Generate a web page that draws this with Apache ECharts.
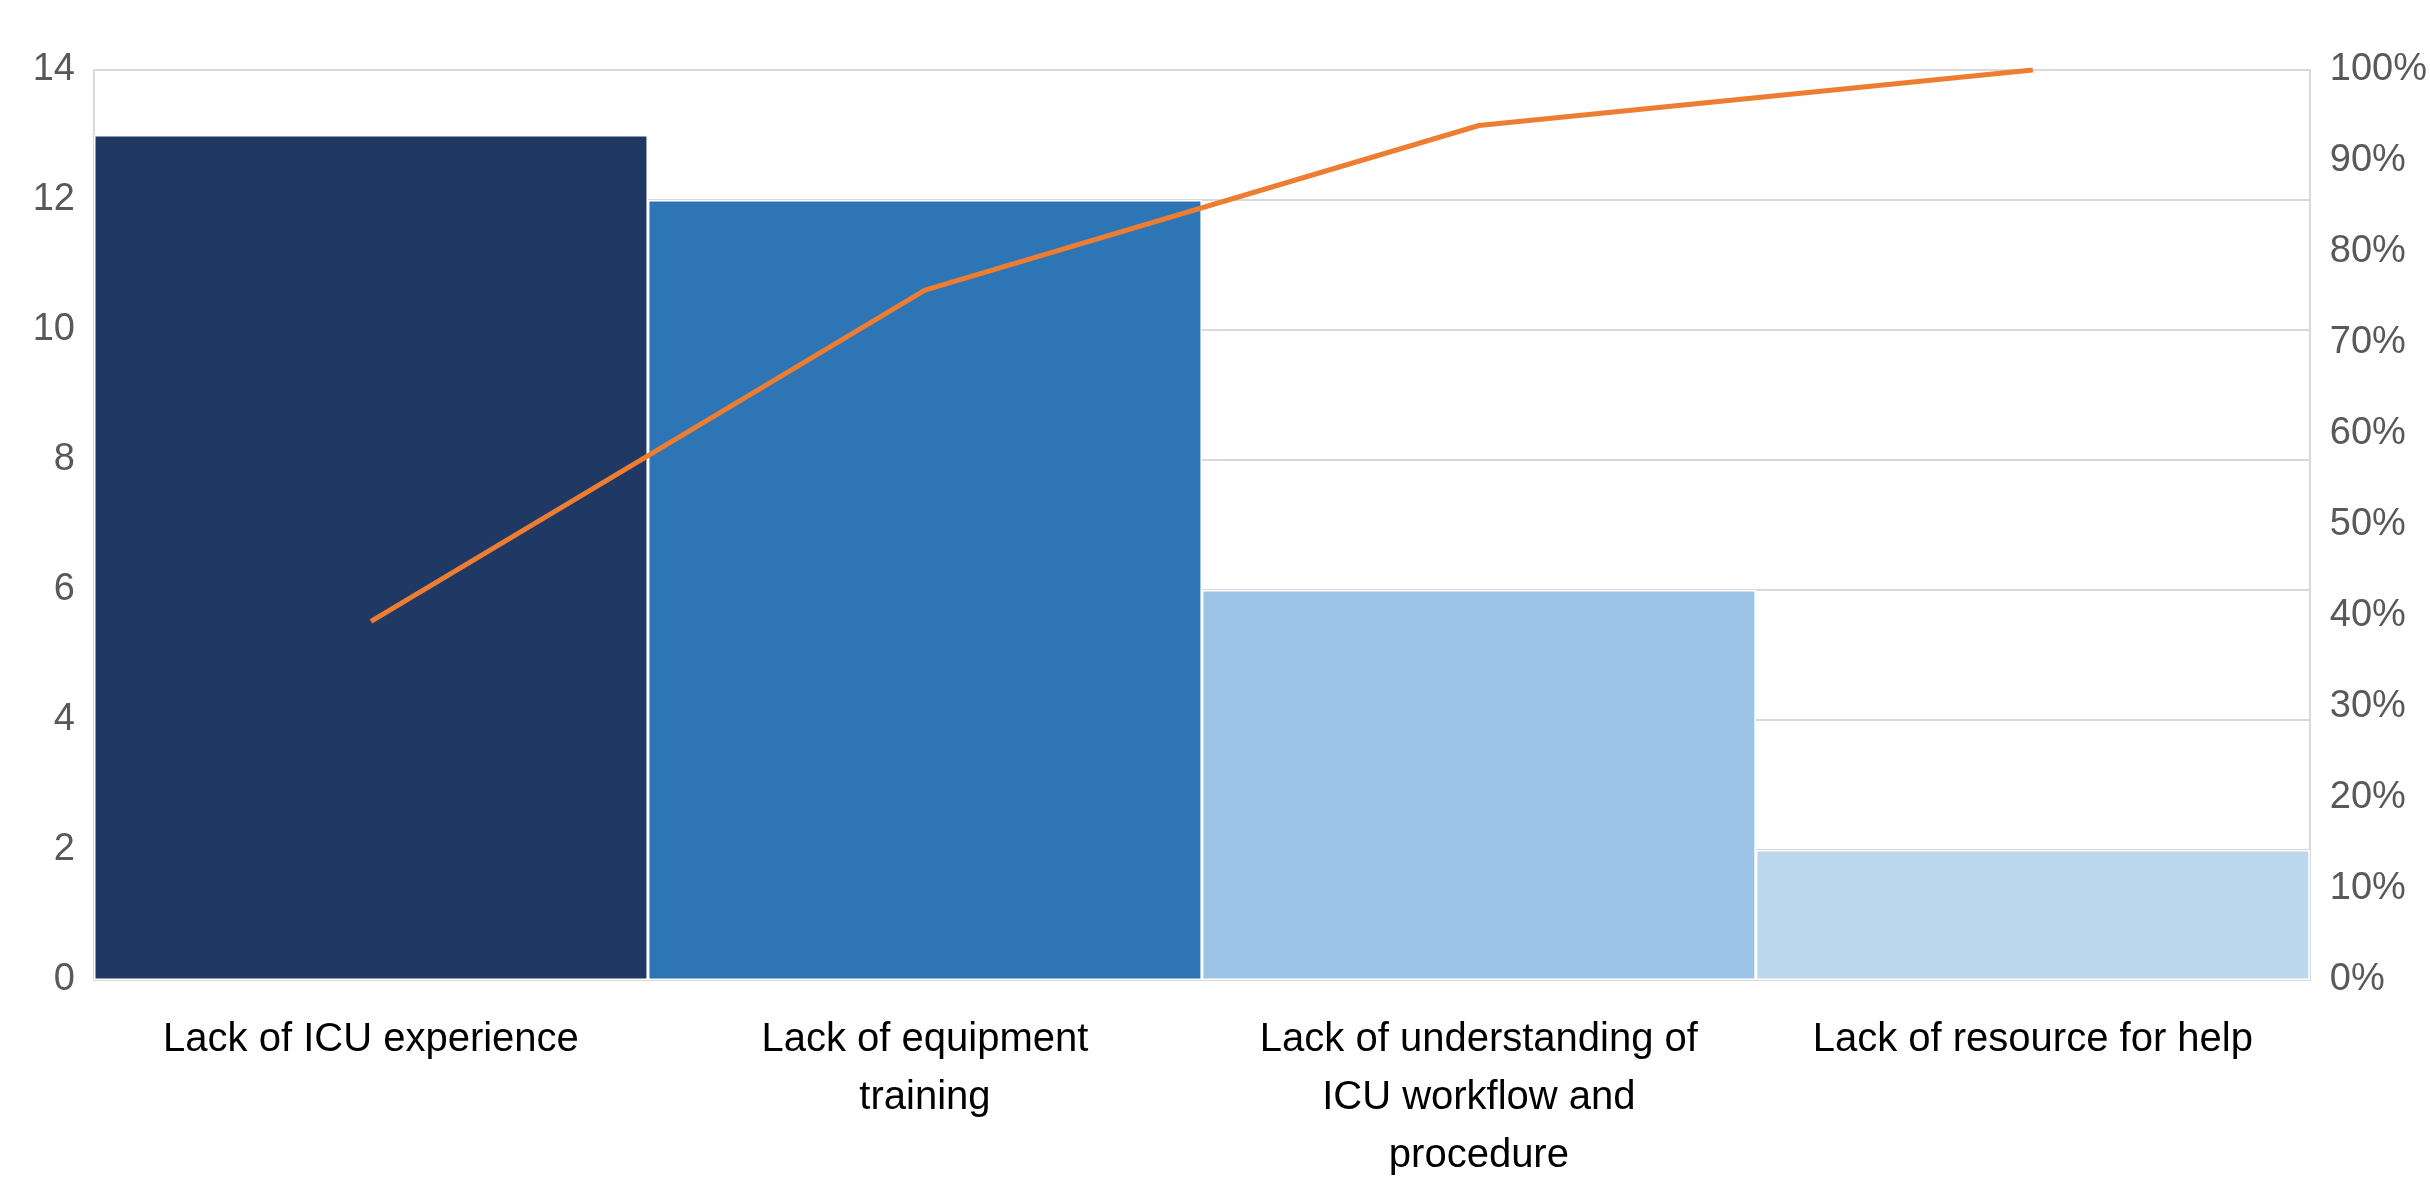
<!DOCTYPE html>
<html>
<head>
<meta charset="utf-8">
<script src="https://cdn.jsdelivr.net/npm/echarts@6/dist/echarts.min.js"></script>
<style>
html,body{margin:0;padding:0;background:#fff;}
#chart{width:2430px;height:1185px;}
</style>
</head>
<body>
<div id="chart"></div>
<script>
var categories = [
  "Lack of ICU experience",
  "Lack of equipment\ntraining",
  "Lack of understanding of\nICU workflow and\nprocedure",
  "Lack of resource for help"
];
var counts = [13, 12, 6, 2];
var cumulativePct = [39.4, 75.8, 93.9, 100];
var leftTicks = { min: 0, max: 14, interval: 2 };
var rightTicks = { min: 0, max: 100, interval: 10 };

var barColors = ["#203864", "#2E75B6", "#9DC3E6", "#BDD7EE"];

var chart = echarts.init(document.getElementById('chart'));
chart.setOption({
  animation: false,
  backgroundColor: '#ffffff',
  textStyle: { fontFamily: 'Liberation Sans' },
  grid: { left: 94, right: 112, top: 70, bottom: 188, containLabel: false },
  xAxis: {
    type: 'category',
    data: categories,
    axisLine: { show: true, lineStyle: { color: '#d9d9d9', width: 2 } },
    axisTick: { show: false },
    axisLabel: {
      interval: 0,
      color: '#000000',
      fontSize: 40,
      lineHeight: 58,
      margin: 31,
      fontFamily: 'Liberation Sans'
    }
  },
  yAxis: [
    {
      type: 'value',
      min: leftTicks.min, max: leftTicks.max, interval: leftTicks.interval,
      axisLine: { show: true, lineStyle: { color: '#d9d9d9', width: 2 } },
      axisTick: { show: false },
      splitLine: { show: true, lineStyle: { color: '#d9d9d9', width: 2 } },
      axisLabel: { color: '#595959', fontSize: 38, margin: 19, fontFamily: 'Liberation Sans' }
    },
    {
      type: 'value',
      min: rightTicks.min, max: rightTicks.max, interval: rightTicks.interval,
      position: 'right',
      axisLine: { show: true, lineStyle: { color: '#d9d9d9', width: 2 } },
      axisTick: { show: false },
      splitLine: { show: false },
      axisLabel: { color: '#595959', fontSize: 38, margin: 20, formatter: '{value}%', fontFamily: 'Liberation Sans' }
    }
  ],
  series: [
    {
      type: 'bar',
      yAxisIndex: 0,
      data: counts,
      barCategoryGap: '0%',
      itemStyle: {
        color: function (p) { return barColors[p.dataIndex]; },
        borderColor: '#ffffff',
        borderWidth: 1.5
      }
    },
    {
      type: 'line',
      yAxisIndex: 1,
      data: cumulativePct,
      symbol: 'none',
      lineStyle: { color: '#ED7D31', width: 5 },
      z: 5
    }
  ]
});
</script>
</body>
</html>
